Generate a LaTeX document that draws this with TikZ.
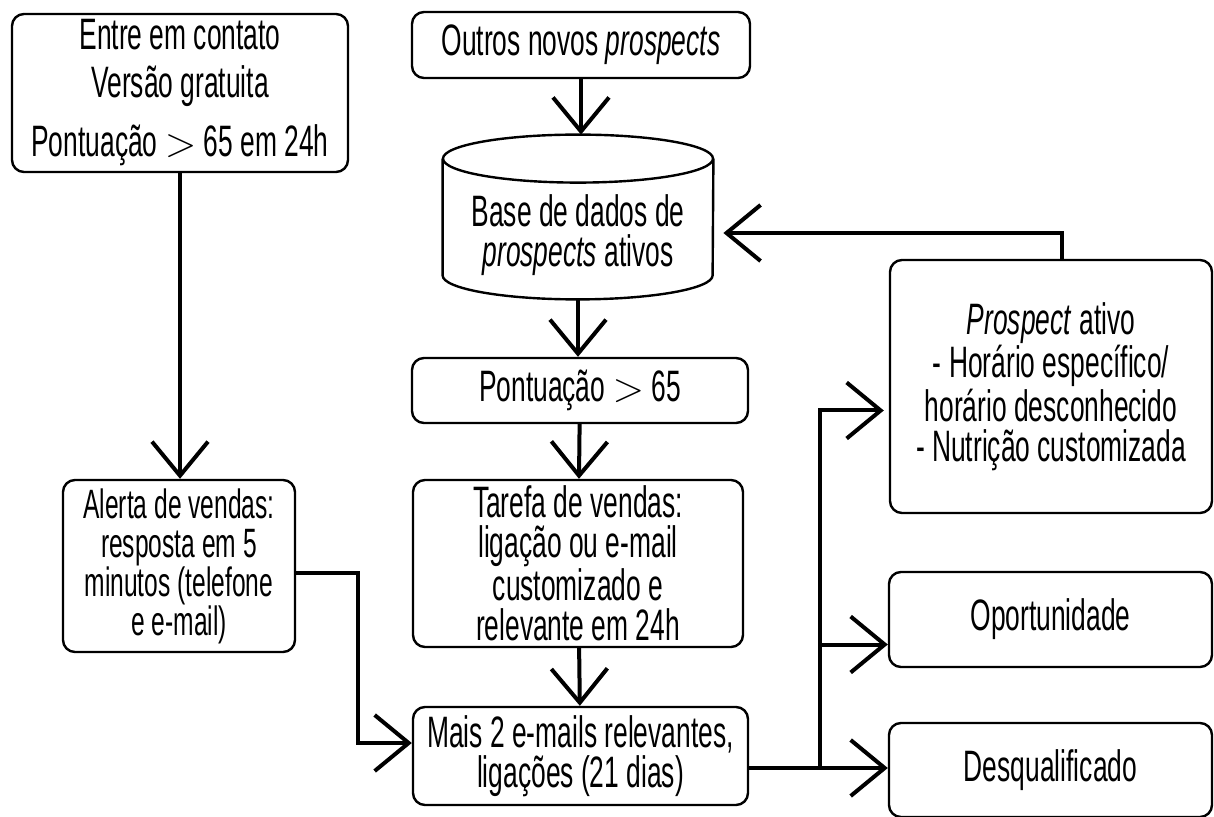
\documentclass[tikz,border=0pt]{standalone}
\usepackage{fontspec}
\setmainfont{Liberation Sans}[FakeStretch=0.6]
\usepackage{tikz}
\usetikzlibrary{arrows.meta,calc}

\begin{document}
\begin{tikzpicture}[x=0.5pt,y=-0.5pt,
  font=\fontsize{22}{20}\selectfont,
  box/.style={draw,line width=1.2pt,rounded corners=6pt,align=center,inner sep=0pt},
  link/.style={line width=2pt,-{Straight Barb[length=17pt,width=28pt]}}]
\useasboundingbox (0,0) rectangle (1214,817);
\node[box,minimum width=168pt,minimum height=79pt](entre) at (180,93) {Entre em contato\\[4pt] Versão gratuita\\[8pt] Pontuação $>$ 65 em 24h};
\node[box,minimum width=169pt,minimum height=33pt](outros) at (581,45) {Outros novos \textit{prospects}};
\node[minimum width=135pt,minimum height=82pt,inner sep=0pt](base) at (578,217) {};
\node[align=center,inner sep=0pt](basetxt) at (578,235) {Base de dados de\\ \textit{prospects} ativos};
\node[box,minimum width=168pt,minimum height=32.5pt](pont) at (580,390.5) {Pontuação $>$ 65};
\node[box,minimum width=165pt,minimum height=83.5pt](tarefa) at (578,563.5) {Tarefa de vendas:\\ ligação ou e-mail\\ customizado e\\ relevante em 24h};
\node[box,minimum width=167.5pt,minimum height=49pt](mais) at (580.5,756) {Mais 2 e-mails relevantes,\\ ligações (21 dias)};
\node[box,minimum width=116pt,minimum height=86pt,font=\fontsize{20.5}{19.5}\selectfont](alerta) at (179,566) {Alerta de vendas:\\ resposta em 5\\ minutos (telefone\\ e e-mail)};
\node[box,minimum width=161pt,minimum height=126.5pt](prosp) at (1051,386.5) {\textit{Prospect} ativo\\ - Horário específico/\\ horário desconhecido\\ - Nutrição customizada};
\node[box,minimum width=161.5pt,minimum height=47.5pt](oport) at (1050.5,619.5) {Oportunidade};
\node[box,minimum width=161.5pt,minimum height=47pt](desq) at (1050.5,770) {Desqualificado};
\draw[line width=1.2pt] ([yshift=-12pt]base.north) ellipse [x radius=67.5pt,y radius=12pt];
\draw[line width=1.2pt] ([yshift=-12pt]base.north west) -- ([yshift=12pt]base.south west) arc [start angle=180,end angle=360,x radius=67.5pt,y radius=12pt] -- ([yshift=-12pt]base.north east);
\coordinate (bend) at (358,743);
\coordinate (split) at (820,768);
\draw[link] (entre.south) -- (entre.south |- alerta.north);
\draw[link] (outros.south) -- (outros.south |- base.north);
\draw[link] (base.south) -- (base.south |- pont.north);
\draw[link] (pont) -- (tarefa);
\draw[link] (tarefa) -- (mais);
\draw[link] ([yshift=-3.5pt]alerta.east) -| (bend) -- ([yshift=6.5pt]mais.west);
\draw[link] (mais.east |- split) -- (desq.west |- split);
\draw[link] (split) |- ([yshift=-12.5pt]oport.west);
\draw[link] (split) |- ([xshift=-2.5pt,yshift=-12pt]prosp.west);
\draw[link] ([xshift=5.5pt]prosp.north) |- ([xshift=5pt,yshift=-8pt]base.east);
\end{tikzpicture}
\end{document}
